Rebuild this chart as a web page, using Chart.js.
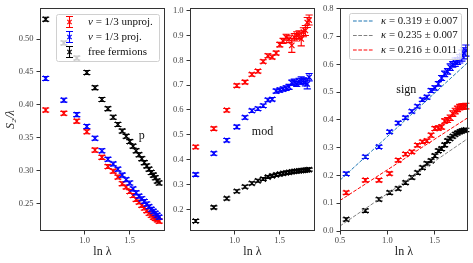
<!DOCTYPE html>
<html>
<head>
<meta charset="utf-8">
<script src="https://cdn.jsdelivr.net/npm/chart.js@4.4.1/dist/chart.umd.min.js"></script>
<style>
  html, body { margin: 0; padding: 0; background: #fff; }
  #wrap { position: relative; width: 473px; height: 263px; overflow: hidden; }
  canvas { position: absolute; top: 0; }
</style>
</head>
<body>
<div id="wrap">
  <canvas id="c1" width="170" height="263" style="left:0"></canvas>
  <canvas id="c2" width="150" height="263" style="left:170px"></canvas>
  <canvas id="c3" width="153" height="263" style="left:320px"></canvas>
</div>
<script>
// x positions shared by all series (ln lambda)
const lnLambda = [0.566, 0.768, 0.912, 1.024, 1.115, 1.192, 1.259, 1.318, 1.370, 1.418, 1.462, 1.502,
                  1.539, 1.573, 1.605, 1.636, 1.664, 1.691, 1.717, 1.741, 1.765, 1.787, 1.808, 1.829];

// panel "p"
const pRed   = [0.392, 0.387, 0.375, 0.359, 0.331, 0.320, 0.306, 0.299, 0.290, 0.280, 0.275, 0.268,
                0.262, 0.256, 0.252, 0.247, 0.243, 0.239, 0.235, 0.232, 0.229, 0.227, 0.225, 0.223];
const pBlue  = [0.440, 0.407, 0.385, 0.367, 0.349, 0.330, 0.317, 0.310, 0.302, 0.293, 0.286, 0.281,
                0.272, 0.266, 0.261, 0.257, 0.253, 0.249, 0.245, 0.241, 0.238, 0.235, 0.232, 0.229];
const pBlack = [0.530, 0.494, 0.471, 0.449, 0.426, 0.408, 0.394, 0.381, 0.370, 0.360, 0.352, 0.344,
                0.337, 0.330, 0.324, 0.318, 0.312, 0.307, 0.302, 0.297, 0.293, 0.289, 0.284, 0.281];
const pErr   = [0.003, 0.003, 0.003, 0.003, 0.003, 0.003, 0.003, 0.003, 0.003, 0.003, 0.003, 0.003,
                0.003, 0.003, 0.003, 0.003, 0.003, 0.003, 0.003, 0.003, 0.003, 0.003, 0.003, 0.003];

// panel "mod"
const mRed   = [0.451, 0.525, 0.599, 0.698, 0.712, 0.743, 0.756, 0.795, 0.818, 0.813, 0.829, 0.863,
                0.878, 0.893, 0.886, 0.860, 0.893, 0.900, 0.903, 0.886, 0.913, 0.920, 0.952, 0.962];
const mRedErr = [0.007, 0.007, 0.007, 0.007, 0.007, 0.007, 0.007, 0.007, 0.008, 0.008, 0.008, 0.009,
                 0.010, 0.012, 0.015, 0.028, 0.015, 0.015, 0.016, 0.028, 0.018, 0.020, 0.020, 0.020];
const mBlue  = [0.340, 0.425, 0.478, 0.532, 0.570, 0.597, 0.605, 0.617, 0.640, 0.643, 0.676, 0.680,
                0.684, 0.688, 0.693, 0.710, 0.712, 0.705, 0.716, 0.719, 0.718, 0.712, 0.705, 0.732];
const mBlueErr = [0.007, 0.007, 0.007, 0.007, 0.007, 0.007, 0.007, 0.007, 0.007, 0.007, 0.008, 0.008,
                  0.008, 0.009, 0.010, 0.010, 0.012, 0.010, 0.012, 0.015, 0.012, 0.015, 0.020, 0.015];
const mBlack = [0.153, 0.208, 0.244, 0.273, 0.291, 0.305, 0.315, 0.322, 0.330, 0.335, 0.339, 0.342,
                0.345, 0.347, 0.349, 0.351, 0.353, 0.354, 0.355, 0.356, 0.357, 0.358, 0.359, 0.360];
const mBlackErr = [0.006, 0.006, 0.006, 0.006, 0.006, 0.006, 0.006, 0.006, 0.006, 0.006, 0.006, 0.006,
                   0.006, 0.006, 0.006, 0.006, 0.006, 0.006, 0.006, 0.006, 0.006, 0.006, 0.006, 0.006];

// panel "sign"
const sBlue  = [0.206, 0.267, 0.303, 0.357, 0.389, 0.408, 0.431, 0.449, 0.473, 0.482, 0.506, 0.515,
                0.530, 0.551, 0.566, 0.575, 0.590, 0.600, 0.608, 0.612, 0.620, 0.632, 0.640, 0.650];
const sBlueErr = [0.006, 0.006, 0.006, 0.006, 0.006, 0.006, 0.006, 0.006, 0.006, 0.007, 0.007, 0.008,
                  0.008, 0.009, 0.010, 0.010, 0.012, 0.010, 0.015, 0.012, 0.015, 0.020, 0.020, 0.020];
const sRed   = [0.138, 0.183, 0.183, 0.207, 0.255, 0.277, 0.285, 0.309, 0.321, 0.325, 0.345, 0.369,
                0.371, 0.375, 0.396, 0.400, 0.408, 0.423, 0.432, 0.440, 0.446, 0.448, 0.449, 0.450];
const sRedErr = [0.006, 0.006, 0.006, 0.006, 0.006, 0.006, 0.006, 0.006, 0.006, 0.006, 0.007, 0.007,
                 0.008, 0.008, 0.008, 0.009, 0.010, 0.010, 0.010, 0.010, 0.010, 0.010, 0.010, 0.010];
const sBlack = [0.042, 0.073, 0.114, 0.138, 0.153, 0.174, 0.193, 0.210, 0.228, 0.243, 0.253, 0.271,
                0.289, 0.296, 0.310, 0.325, 0.333, 0.341, 0.348, 0.353, 0.357, 0.360, 0.363, 0.364];
const sBlackErr = [0.006, 0.006, 0.006, 0.006, 0.006, 0.006, 0.006, 0.006, 0.006, 0.006, 0.006, 0.006,
                   0.006, 0.006, 0.006, 0.006, 0.006, 0.006, 0.006, 0.006, 0.006, 0.006, 0.006, 0.006];

// linear fits in the "sign" panel (end points)
const fitX     = [0.5, 1.85];
const fitBlue  = [0.183, 0.607];
const fitGrey  = [0.018, 0.333];
const fitRed   = [0.110, 0.408];

// tick labels
const xTicks12 = [1.0, 1.5];
const xTicks3  = [0.5, 1.0, 1.5];
const yTicks1  = [0.25, 0.30, 0.35, 0.40, 0.45, 0.50];
const yTicks2  = [0.2, 0.3, 0.4, 0.5, 0.6, 0.7, 0.8, 0.9, 1.0];
const yTicks3  = [0.0, 0.1, 0.2, 0.3, 0.4, 0.5, 0.6, 0.7, 0.8];

const seriesLabels = [
  [['ν', true], [' = 1/3 unproj.', false]],
  [['ν', true], [' = 1/3 proj.', false]],
  [['free fermions', false]]
];
const fitLabels = [
  [['κ', true], [' = 0.319 ± 0.007', false]],
  [['κ', true], [' = 0.235 ± 0.007', false]],
  [['κ', true], [' = 0.216 ± 0.011', false]]
];

const SERIF = '"Liberation Serif", "DejaVu Serif", serif';
const RED = '#ff0000', BLUE = '#0000ff', BLACK = '#000000';

function pts(ys) {
  return ys.map((y, i) => ({ x: lnLambda[i], y: y }));
}

// error bars with caps, drawn right after each dataset
const errorBars = {
  id: 'errorBars',
  afterDatasetDraw(chart, args) {
    const ds = chart.data.datasets[args.index];
    if (!ds.err) return;
    const ys = chart.scales.y;
    const ctx = chart.ctx;
    ctx.save();
    ctx.strokeStyle = ds.borderColor;
    ctx.lineWidth = 1.1;
    args.meta.data.forEach((pt, i) => {
      const v = ds.data[i].y, e = ds.err[i];
      const y0 = ys.getPixelForValue(v - e), y1 = ys.getPixelForValue(v + e);
      const x = pt.x;
      ctx.beginPath();
      ctx.moveTo(x, y0); ctx.lineTo(x, y1);
      ctx.moveTo(x - 3.6, y0); ctx.lineTo(x + 3.6, y0);
      ctx.moveTo(x - 3.6, y1); ctx.lineTo(x + 3.6, y1);
      ctx.stroke();
    });
    ctx.restore();
  }
};

// full frame round the plot area + text notes
const frame = {
  id: 'frame',
  afterDatasetsDraw(chart, args, o) {
    const a = chart.chartArea, ctx = chart.ctx;
    ctx.save();
    ctx.strokeStyle = '#333';
    ctx.lineWidth = 1;
    ctx.strokeRect(Math.round(a.left) + 0.5, Math.round(a.top) + 0.5,
                   Math.round(a.right - a.left) - 1, Math.round(a.bottom - a.top) - 1);
    if (o && o.note) {
      ctx.fillStyle = '#111';
      ctx.font = '12px ' + SERIF;
      ctx.textAlign = 'center';
      ctx.textBaseline = 'middle';
      ctx.fillText(o.note.text, chart.scales.x.getPixelForValue(o.note.x), chart.scales.y.getPixelForValue(o.note.y));
    }
    ctx.restore();
  }
};

// legend drawn on top of the plot, semi-transparent like matplotlib
const boxLegend = {
  id: 'boxLegend',
  afterDraw(chart, args, o) {
    if (!o || !o.rows) return;
    const ctx = chart.ctx;
    ctx.save();
    ctx.beginPath();
    ctx.roundRect(o.x + 0.5, o.y + 0.5, o.w, o.h, 2);
    ctx.fillStyle = 'rgba(255,255,255,0.8)';
    ctx.fill();
    ctx.strokeStyle = '#d0d0d0';
    ctx.lineWidth = 1;
    ctx.stroke();
    o.rows.forEach((r, i) => {
      const cy = o.rowY[i];
      ctx.strokeStyle = r.color;
      ctx.lineWidth = 1.1;
      if (r.kind === 'err') {
        const hx = o.handleX;
        ctx.beginPath();
        ctx.moveTo(hx, cy - 5.5); ctx.lineTo(hx, cy + 5.5);
        ctx.moveTo(hx - 3.5, cy - 5.5); ctx.lineTo(hx + 3.5, cy - 5.5);
        ctx.moveTo(hx - 3.5, cy + 5.5); ctx.lineTo(hx + 3.5, cy + 5.5);
        ctx.moveTo(hx - 2.2, cy - 2.2); ctx.lineTo(hx + 2.2, cy + 2.2);
        ctx.moveTo(hx - 2.2, cy + 2.2); ctx.lineTo(hx + 2.2, cy - 2.2);
        ctx.stroke();
      } else {
        ctx.setLineDash([3.7, 1.6]);
        ctx.beginPath();
        ctx.moveTo(o.lineX0, cy); ctx.lineTo(o.lineX1, cy);
        ctx.stroke();
        ctx.setLineDash([]);
      }
      let tx = o.textX;
      ctx.fillStyle = '#111';
      ctx.textBaseline = 'middle';
      r.parts.forEach(([t, it]) => {
        ctx.font = (it ? 'italic ' : '') + o.fontSize + 'px ' + SERIF;
        ctx.fillText(t, tx, cy);
        tx += ctx.measureText(t).width;
      });
    });
    ctx.restore();
  }
};

function scatterSet(vals, err, color) {
  return {
    data: pts(vals), err: err,
    borderColor: color, backgroundColor: color,
    pointStyle: 'crossRot', pointRadius: 3.8, borderWidth: 1.2, showLine: false
  };
}

function fitSet(vals, color) {
  return {
    type: 'line',
    data: fitX.map((x, i) => ({ x: x, y: vals[i] })),
    borderColor: color, borderWidth: 1, borderDash: [3.7, 1.6],
    pointRadius: 0, fill: false, tension: 0
  };
}

function makePanel(id, o) {
  const tickFont = { family: SERIF, size: 8.5 };
  return new Chart(document.getElementById(id), {
    type: 'scatter',
    data: { datasets: o.datasets },
    plugins: [errorBars, frame, boxLegend],
    options: {
      responsive: false,
      animation: false,
      layout: { padding: { top: 7, right: o.padRight, left: 0, bottom: 0 } },
      plugins: {
        legend: { display: false },
        tooltip: { enabled: false },
        frame: { note: o.note },
        boxLegend: o.legend || {}
      },
      scales: {
        x: {
          type: 'linear', min: o.xMin, max: o.xMax,
          afterBuildTicks: s => { s.ticks = o.xTicks.map(v => ({ value: v })); },
          afterFit: s => { s.height = 32; },
          ticks: { font: tickFont, color: '#444', padding: 1, maxRotation: 0,
                   callback: v => v.toFixed(1) },
          grid: { display: true, drawOnChartArea: false, drawTicks: true, tickLength: 3.5, color: '#333' },
          border: { display: false },
          title: { display: true, text: 'ln λ', font: { family: SERIF, size: 12 }, color: '#222',
                   padding: { top: 0, bottom: 4 } }
        },
        y: {
          type: 'linear', min: o.yMin, max: o.yMax,
          afterBuildTicks: s => { s.ticks = o.yTicks.map(v => ({ value: v })); },
          afterFit: s => { s.width = o.yWidth; },
          ticks: { font: tickFont, color: '#444', padding: 3,
                   callback: v => v.toFixed(o.yDec) },
          grid: { display: true, drawOnChartArea: false, drawTicks: true, tickLength: 3.5, color: '#333' },
          border: { display: false },
          title: { display: !!o.yTitle, text: o.yTitle || '', font: { family: SERIF, size: 12, style: 'italic' },
                   color: '#222', padding: { top: 4, bottom: 0 } }
        }
      }
    }
  });
}

makePanel('c1', {
  datasets: [scatterSet(pBlack, pErr, BLACK), scatterSet(pBlue, pErr, BLUE), scatterSet(pRed, pErr, RED)],
  xMin: 0.503, xMax: 1.892, yMin: 0.208, yMax: 0.547,
  xTicks: xTicks12, yTicks: yTicks1, yDec: 2, yWidth: 40, padRight: 3,
  yTitle: 'S₂/λ',
  note: { text: 'p', x: 1.635, y: 0.352 },
  legend: {
    x: 56, y: 14, w: 103, h: 47, rowY: [22, 37, 52], handleX: 69.5, textX: 88, fontSize: 11,
    rows: [
      { kind: 'err', color: RED, parts: seriesLabels[0] },
      { kind: 'err', color: BLUE, parts: seriesLabels[1] },
      { kind: 'err', color: BLACK, parts: seriesLabels[2] }
    ]
  }
});

makePanel('c2', {
  datasets: [scatterSet(mBlack, mBlackErr, BLACK), scatterSet(mBlue, mBlueErr, BLUE), scatterSet(mRed, mRedErr, RED)],
  xMin: 0.503, xMax: 1.892, yMin: 0.113, yMax: 1.01,
  xTicks: xTicks12, yTicks: yTicks2, yDec: 1, yWidth: 20, padRight: 3,
  note: { text: 'mod', x: 1.31, y: 0.511 }
});

makePanel('c3', {
  datasets: [
    fitSet(fitBlue, '#1f77b4'), fitSet(fitGrey, '#808080'), fitSet(fitRed, RED),
    scatterSet(sBlack, sBlackErr, BLACK), scatterSet(sBlue, sBlueErr, BLUE), scatterSet(sRed, sRedErr, RED)
  ],
  xMin: 0.5, xMax: 1.85, yMin: 0.0, yMax: 0.803,
  xTicks: xTicks3, yTicks: yTicks3, yDec: 1, yWidth: 20, padRight: 4,
  note: { text: 'sign', x: 1.20, y: 0.509 },
  legend: {
    x: 29, y: 13, w: 112, h: 46, rowY: [21, 35.5, 50], lineX0: 33, lineX1: 53, textX: 61, fontSize: 10.8,
    rows: [
      { kind: 'line', color: '#1f77b4', parts: fitLabels[0] },
      { kind: 'line', color: '#808080', parts: fitLabels[1] },
      { kind: 'line', color: RED, parts: fitLabels[2] }
    ]
  }
});
</script>
</body>
</html>
